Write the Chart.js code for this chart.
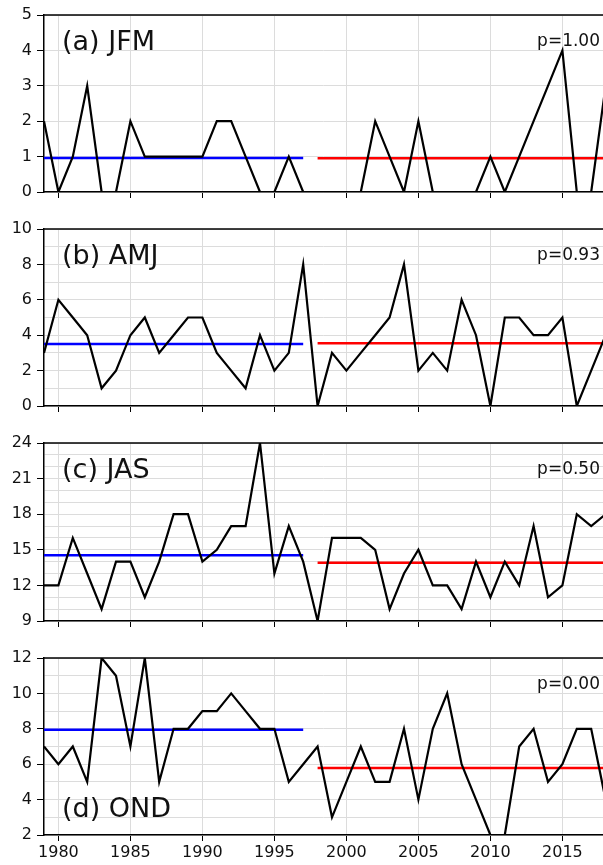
<!DOCTYPE html>
<html lang="en">
<head>
  <meta charset="UTF-8">
  <title>Seasonal counts 1979-2018</title>
  <script src="https://cdn.jsdelivr.net/npm/chart.js"></script>
  <style>
    body {
      margin: 0;
      background: #ffffff;
      overflow: hidden;
    }
    .panel {
      position: absolute;
      left: 0;
    }
  </style>
</head>
<body>

<div class="panel" style="top:0"><canvas id="jfmChart" width="603" height="214"></canvas></div>
<div class="panel" style="top:214px"><canvas id="amjChart" width="603" height="214"></canvas></div>
<div class="panel" style="top:428px"><canvas id="jasChart" width="603" height="214"></canvas></div>
<div class="panel" style="top:643px"><canvas id="ondChart" width="603" height="222"></canvas></div>

<script>
  // years on the x axis
  const years = [1979, 1980, 1981, 1982, 1983, 1984, 1985, 1986, 1987, 1988,
                 1989, 1990, 1991, 1992, 1993, 1994, 1995, 1996, 1997, 1998,
                 1999, 2000, 2001, 2002, 2003, 2004, 2005, 2006, 2007, 2008,
                 2009, 2010, 2011, 2012, 2013, 2014, 2015, 2016, 2017, 2018];
  const yearTicks = [1980, 1985, 1990, 1995, 2000, 2005, 2010, 2015];

  // seasonal series
  const jfmValues = [2, 0, 1, 3, 0, 0, 2, 1, 1, 1, 1, 1, 2, 2, 1, 0, 0, 1, 0,
                     0, 0, 0, 0, 2, 1, 0, 2, 0, 0, 0, 0, 1, 0, 1, 2, 3, 4, 0, 0, 3];
  const amjValues = [3, 6, 5, 4, 1, 2, 4, 5, 3, 4, 5, 5, 3, 2, 1, 4, 2, 3, 8,
                     0, 3, 2, 3, 4, 5, 8, 2, 3, 2, 6, 4, 0, 5, 5, 4, 4, 5, 0, 2, 4];
  const jasValues = [12, 12, 16, 13, 10, 14, 14, 11, 14, 18, 18, 14, 15, 17, 17, 24, 13, 17, 14,
                     9, 16, 16, 16, 15, 10, 13, 15, 12, 12, 10, 14, 11, 14, 12, 17, 11, 12, 18, 17, 18];
  const ondValues = [7, 6, 7, 5, 12, 11, 7, 12, 5, 8, 8, 9, 9, 10, 9, 8, 8, 5, 6,
                     7, 3, 5, 7, 5, 5, 8, 4, 8, 10, 6, 4, 2, 2, 7, 8, 5, 6, 8, 8, 4];

  // period means: [1979-1997, 1998-2018]
  const jfmMeans = [0.96, 0.95];
  const amjMeans = [3.5, 3.55];
  const jasMeans = [14.55, 13.9];
  const ondMeans = [7.95, 5.78];

  const pValues = ['p=1.00', 'p=0.93', 'p=0.50', 'p=0.00'];

  const firstPeriod = [1979, 1997];
  const secondPeriod = [1998, 2018];
  const xMin = 1979;
  const xMax = 2017.82;

  const FONT = '"DejaVu Sans", sans-serif';

  // frame top line + panel title + p value
  const panelDecor = {
    id: 'panelDecor',
    afterDraw(chart, args, opts) {
      const { ctx, chartArea: a } = chart;
      ctx.save();
      ctx.strokeStyle = '#000';
      ctx.lineWidth = 1.5;
      ctx.beginPath();
      ctx.moveTo(a.left, a.top);
      ctx.lineTo(a.right, a.top);
      ctx.stroke();

      ctx.fillStyle = '#111';
      ctx.textBaseline = 'alphabetic';
      ctx.font = '27px ' + FONT;
      ctx.textAlign = 'left';
      ctx.fillText(opts.title, a.left + 18, opts.bottom ? a.bottom - 18 : a.top + 35);

      ctx.font = '17px ' + FONT;
      ctx.textAlign = 'right';
      ctx.fillText(opts.p, a.right - 3, a.top + 31);
      ctx.restore();
    }
  };

  function drawPanel(id, values, means, yMin, yMax, labelStep, title, p, titleBottom, showYears, plotH) {
    const canvas = document.getElementById(id);
    const xHeight = canvas.height - 15 - plotH;

    new Chart(canvas, {
      type: 'line',
      data: {
        datasets: [
          {
            data: years.map((x, i) => ({ x: x, y: values[i] })),
            borderColor: '#000000',
            borderWidth: 2.2,
            pointRadius: 0,
            tension: 0
          },
          {
            data: [{ x: firstPeriod[0], y: means[0] }, { x: firstPeriod[1], y: means[0] }],
            borderColor: '#0000ff',
            borderWidth: 2.5,
            pointRadius: 0
          },
          {
            data: [{ x: secondPeriod[0], y: means[1] }, { x: secondPeriod[1], y: means[1] }],
            borderColor: '#ff0000',
            borderWidth: 2.5,
            pointRadius: 0
          }
        ]
      },
      options: {
        responsive: false,
        animation: false,
        layout: { padding: { top: 15, right: 0, left: 0, bottom: 0 } },
        plugins: {
          legend: { display: false },
          tooltip: { enabled: false },
          panelDecor: { title: title, p: p, bottom: titleBottom }
        },
        scales: {
          x: {
            type: 'linear',
            min: xMin,
            max: xMax,
            afterBuildTicks: s => { s.ticks = yearTicks.map(v => ({ value: v })); },
            afterFit: s => { s.height = xHeight; },
            grid: { color: '#dcdcdc', tickColor: '#000', tickLength: 6 },
            border: { color: '#000', width: 1.5 },
            ticks: {
              display: showYears,
              color: '#111',
              font: { family: FONT, size: 16 },
              padding: 2,
              maxRotation: 0,
              autoSkip: false,
              callback: v => String(v)
            }
          },
          y: {
            min: yMin,
            max: yMax,
            afterFit: s => { s.width = 44; },
            grid: {
              color: '#dcdcdc',
              tickLength: 7,
              tickColor: c => (c.tick && c.tick.value % labelStep === 0) ? '#000' : 'rgba(0,0,0,0)'
            },
            border: { color: '#000', width: 1.5 },
            ticks: {
              stepSize: 1,
              autoSkip: false,
              color: '#111',
              padding: 5,
              font: { family: FONT, size: 16 },
              callback: v => (v % labelStep === 0 ? String(v) : '')
            }
          }
        }
      },
      plugins: [panelDecor]
    });
  }

  drawPanel('jfmChart', jfmValues, jfmMeans, 0, 5, 1, '(a) JFM', pValues[0], false, false, 177);
  drawPanel('amjChart', amjValues, amjMeans, 0, 10, 2, '(b) AMJ', pValues[1], false, false, 177);
  drawPanel('jasChart', jasValues, jasMeans, 9, 24, 3, '(c) JAS', pValues[2], false, false, 178);
  drawPanel('ondChart', ondValues, ondMeans, 2, 12, 2, '(d) OND', pValues[3], true, true, 177);
</script>

</body>
</html>
